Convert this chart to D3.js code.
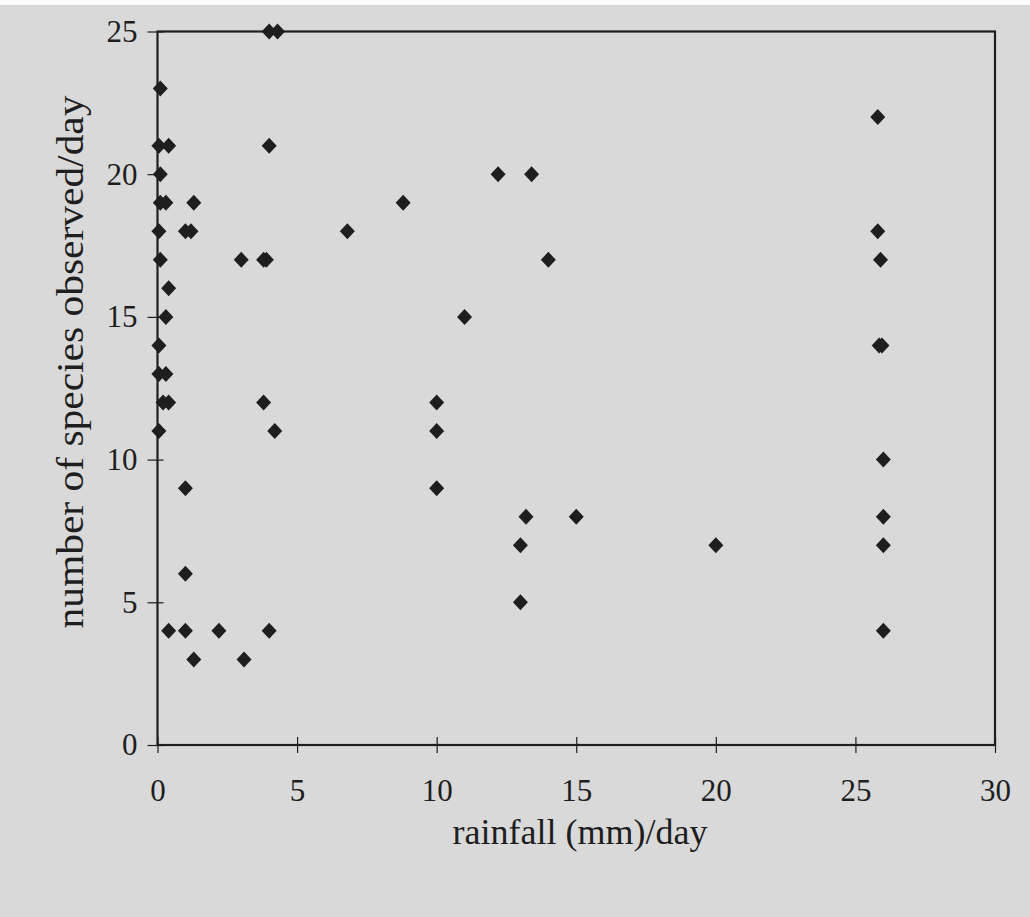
<!DOCTYPE html>
<html><head><meta charset="utf-8">
<script src="https://cdn.jsdelivr.net/npm/d3@7"></script>
<style>html,body{margin:0;padding:0;background:#fff;}svg{display:block;}</style>
</head><body>
<script>
const rainfall = [0.1,0.05,0.4,0.1,0.1,0.3,1.3,0.05,1.0,1.2,0.1,0.4,0.3,0.05,0.05,0.3,0.2,0.4,0.05,
  1.0,1.0,0.4,1.0,2.2,4.0,1.3,3.1,3.8,4.2,3.0,3.8,3.9,4.0,4.0,4.3,
  6.8,8.8,12.2,13.4,14.0,11.0,10.0,10.0,10.0,13.2,15.0,13.0,13.0,20.0,
  25.8,25.8,25.9,25.85,25.95,26.0,26.0,26.0,26.0];
const species = [23,21,21,20,19,19,19,18,18,18,17,16,15,14,13,13,12,12,11,
  9,6,4,4,4,4,3,3,12,11,17,17,17,21,25,25,
  18,19,20,20,17,15,12,11,9,8,8,7,5,7,
  22,18,17,14,14,10,8,7,4];
const xTicks = [0,5,10,15,20,25,30];
const yTicks = [0,5,10,15,20,25];
const xTitle = "rainfall (mm)/day";
const yTitle = "number of species observed/day";

const W = 1030, H = 917;
const svg = d3.select("body").append("svg").attr("width", W).attr("height", H);
svg.append("rect").attr("width", W).attr("height", H).attr("fill", "#d9d9d9");
svg.append("rect").attr("width", W).attr("height", 5).attr("fill", "#fbfbfb");

const L = 157.5, R = 995, T = 31.5, B = 745;
const x = d3.scaleLinear().domain([0,30]).range([L,R]);
const y = d3.scaleLinear().domain([0,25]).range([B,T]);

const font = "'Liberation Serif','Times New Roman',serif";
const ink = "#1e1e1e";

// frame
svg.append("rect").attr("x", L).attr("y", T).attr("width", R-L).attr("height", B-T)
  .attr("fill", "none").attr("stroke", ink).attr("stroke-width", 2.2);

// axes
const xAxis = d3.axisBottom(x).tickValues(xTicks).tickSize(16).tickPadding(26).tickFormat(d3.format("d"));
const gx = svg.append("g").attr("transform", `translate(0,${B-8})`).call(xAxis);
gx.select(".domain").remove();
gx.selectAll(".tick line").attr("stroke", ink).attr("stroke-width", 1.2);
gx.selectAll(".tick text").attr("font-family", font).attr("font-size", 31).attr("fill", ink);

const yAxis = d3.axisLeft(y).tickValues(yTicks).tickSize(16).tickPadding(10).tickFormat(d3.format("d"));
const gy = svg.append("g").attr("transform", `translate(${L+6},0)`).call(yAxis);
gy.select(".domain").remove();
gy.selectAll(".tick line").attr("stroke", ink).attr("stroke-width", 1.2);
gy.selectAll(".tick text").attr("font-family", font).attr("font-size", 31).attr("fill", ink);

// titles
svg.append("text").attr("x", 580).attr("y", 844).attr("text-anchor", "middle")
  .attr("font-family", font).attr("font-size", 36).attr("fill", ink).text(xTitle);
svg.append("text").attr("transform", `translate(83,362) rotate(-90)`).attr("text-anchor", "middle")
  .attr("font-family", font).attr("font-size", 37).attr("fill", ink)
  .attr("textLength", 533).attr("lengthAdjust", "spacingAndGlyphs").text(yTitle);

// points
const pts = rainfall.map((r,i) => ({r, s: species[i]}));
svg.append("g").selectAll("path").data(pts).join("path")
  .attr("transform", d => `translate(${x(d.r)},${y(d.s)})`)
  .attr("d", "M0,-8L7.5,0L0,8L-7.5,0Z")
  .attr("fill", ink);
</script>
</body></html>
